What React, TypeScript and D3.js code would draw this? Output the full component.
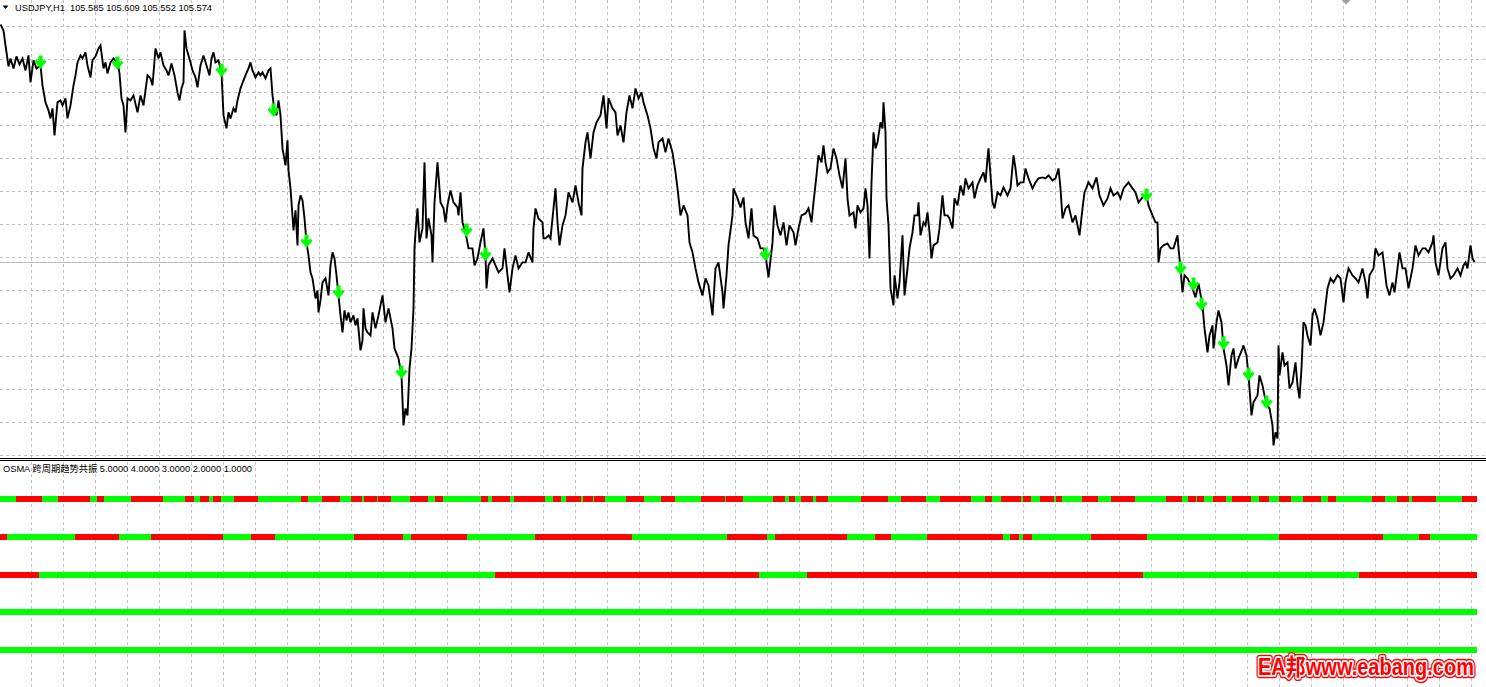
import React from 'react';
import * as d3 from 'd3';

const W = 1486;
const H = 687;

const chartTitle = 'USDJPY,H1  105.585 105.609 105.552 105.574';
const indicatorTitle = 'OSMA 跨周期趋势共振 5.0000 4.0000 3.0000 2.0000 1.0000';
const watermarkText = 'EA邦www.eabang.com';

const totalBars = 1477;
const lastPrice = 105.574;

// [bar index, close price] (local highs/lows)
const closeSeries: [number, number][] = [
  [0,107.95],[3,107.89],[5,107.74],[8,107.53],[10,107.61],[13,107.51],[16,107.63],[19,107.55],[22,107.61],[25,107.49],
  [28,107.64],[30,107.37],[33,107.59],[36,107.51],[40,107.54],[42,107.34],[45,107.17],[48,107.09],[50,107.01],[52,107.11],
  [54,106.84],[57,107.17],[60,107.19],[62,107.14],[65,107.21],[67,107.01],[70,107.14],[73,107.34],[75,107.44],[77,107.57],
  [80,107.64],[82,107.61],[85,107.67],[87,107.54],[90,107.42],[92,107.59],[95,107.63],[98,107.71],[100,107.74],[103,107.51],
  [105,107.57],[107,107.46],[110,107.57],[113,107.61],[117,107.57],[119,107.46],[121,107.21],[123,107.14],[125,106.87],[127,107.21],
  [130,107.19],[133,107.24],[137,107.07],[140,107.24],[143,107.14],[147,107.44],[150,107.41],[152,107.34],[155,107.71],[158,107.61],
  [160,107.67],[163,107.54],[166,107.49],[168,107.44],[171,107.56],[174,107.44],[177,107.27],[179,107.19],[181,107.31],[183,107.37],
  [184,107.89],[186,107.71],[188,107.64],[190,107.57],[192,107.49],[195,107.42],[197,107.32],[200,107.54],[203,107.64],[206,107.54],
  [209,107.44],[211,107.61],[213,107.67],[215,107.57],[218,107.59],[221,107.47],[223,107.04],[226,106.91],[228,107.07],[230,107.01],
  [233,107.11],[235,107.07],[237,107.19],[240,107.31],[243,107.39],[245,107.44],[248,107.51],[250,107.57],[252,107.49],[255,107.42],
  [258,107.47],[260,107.44],[262,107.47],[265,107.41],[268,107.49],[270,107.51],[272,107.24],[274,107.09],[276,107.04],[278,107.19],
  [280,107.04],[282,106.71],[285,106.54],[287,106.79],[288,106.49],[290,106.31],[293,105.89],[295,106.09],[297,105.74],[298,106.14],
  [300,106.24],[302,106.19],[304,106.01],[306,105.77],[308,105.64],[310,105.47],[312,105.41],[315,105.21],[317,105.29],[318,105.07],
  [320,105.19],[322,105.37],[325,105.41],[328,105.24],[330,105.54],[332,105.67],[334,105.61],[336,105.44],[338,105.24],[340,105.04],
  [342,104.87],[344,105.09],[346,104.99],[348,105.07],[350,104.97],[353,105.04],[355,104.94],[357,105.01],[360,104.69],[362,104.79],
  [363,105.11],[365,104.91],[367,104.87],
  [370,104.84],[372,105.07],[375,104.91],[378,105.04],[382,105.24],[385,104.97],[388,105.11],[392,104.91],[394,104.71],[398,104.61],
  [401,104.44],[403,103.94],[405,104.11],[407,104.04],[409,104.51],[411,104.71],[413,105.11],[414,105.71],[415,105.87],[417,106.11],
  [419,105.77],[422,105.91],[424,106.57],[426,105.81],[428,106.01],[431,105.84],[432,105.57],[434,106.17],[437,106.57],[438,106.44],
  [440,106.17],[443,106.11],[445,105.97],[447,106.14],[450,106.29],[453,106.17],[457,106.12],[458,106.04],[460,106.27],[462,105.97],
  [465,105.87],[468,105.71],[472,105.71],[474,105.54],[477,105.61],[480,105.77],[483,105.91],[485,105.64],[486,105.31],[488,105.54],
  [492,105.61],[495,105.54],[498,105.47],[502,105.51],[504,105.71],[507,105.44],[509,105.27],[512,105.51],[515,105.64],[518,105.51],
  [522,105.57],[525,105.57],[528,105.67],[532,105.57],[533,105.91],[535,106.11],[538,106.01],[542,105.97],[543,105.81],[545,105.81],
  [548,105.84],[550,105.81],[553,106.11],[555,106.31],[557,105.97],[559,105.74],[562,105.94],[565,106.04],[568,106.27],[572,106.17],
  [575,106.34],[578,106.17],[581,106.04],[582,106.51],[585,106.77],[587,106.87],[590,106.61],[593,106.87],[596,106.97],[600,107.04],
  [603,107.24],[606,106.91],[608,107.21],[612,107.11],[615,107.07],[617,106.84],[620,106.94],[623,106.77],[626,107.07],[629,107.24],
  [632,107.11],[635,107.31],[638,107.21],[641,107.27],[643,107.17],[647,107.04],[650,106.91],[653,106.71],[656,106.61],[658,106.77],
  [662,106.81],[665,106.67],[668,106.81],[672,106.67],[675,106.47],[677,106.31],[680,106.04],[683,106.14],[687,106.04],[689,105.77],
  [692,105.67],[695,105.51],[698,105.37],[702,105.24],[705,105.41],[708,105.34],[712,105.04],[715,105.51],[718,105.57],[722,105.27],
  [723,105.11],[726,105.44],[728,105.74],[732,106.04],[733,106.31],[737,106.21],[740,106.12],
  [743,106.22],[745,105.97],[748,105.81],[751,106.11],[753,105.84],[757,105.81],[760,105.71],[763,105.71],[765,105.64],[768,105.42],
  [772,105.77],[774,106.14],[777,105.94],[780,105.84],[783,105.97],[786,105.74],[789,105.94],[793,105.87],[795,105.74],[798,105.91],
  [801,106.04],[805,106.06],[808,106.11],[811,105.97],[813,106.17],[816,106.44],[818,106.64],[821,106.57],[823,106.74],[825,106.57],
  [827,106.47],[830,106.51],[833,106.71],[836,106.61],[839,106.44],[842,106.31],[845,106.61],[847,106.21],[849,106.04],[853,106.07],
  [855,105.91],[857,106.14],[860,106.07],[863,106.11],[865,106.31],[867,106.14],[869,105.61],[871,106.37],[873,106.87],[875,106.71],
  [877,106.77],[880,106.97],[882,106.91],[883,107.17],[885,106.87],[886,106.21],[888,105.94],[890,105.31],[893,105.14],[894,105.44],
  [897,105.21],[899,105.37],[902,105.84],[904,105.24],[907,105.51],[909,105.71],[912,105.87],[914,106.04],[917,106.04],[918,106.17],
  [920,105.84],[923,105.97],[925,105.94],[927,106.07],[929,105.87],[931,105.61],[933,105.74],[937,105.77],[939,105.91],[942,106.24],
  [944,106.04],[947,106.04],[949,106.01],[952,105.91],[954,106.21],[957,106.14],[960,106.34],[963,106.24],[965,106.41],[968,106.31],
  [972,106.37],[974,106.21],[977,106.34],[980,106.41],[983,106.47],[985,106.37],[987,106.61],[988,106.71],[990,106.44],[992,106.17],
  [994,106.11],[997,106.27],[1000,106.24],[1003,106.32],[1007,106.24],[1010,106.31],[1013,106.64],[1015,106.51],[1017,106.34],[1020,106.37],
  [1023,106.37],[1025,106.51],[1028,106.41],[1032,106.31],[1035,106.37],[1038,106.41],[1042,106.42],[1045,106.41],[1048,106.44],[1052,106.39],
  [1055,106.41],[1058,106.51],[1060,106.31],[1062,106.01],[1065,106.11],[1068,106.14],[1072,105.97],[1075,106.04],[1079,105.84],[1082,106.11],
  [1084,106.27],[1088,106.37],[1092,106.31],[1096,106.42],[1099,106.24],[1103,106.14],[1107,106.21],
  [1110,106.31],[1113,106.24],[1117,106.27],[1120,106.21],[1123,106.31],[1128,106.37],[1132,106.31],[1135,106.27],[1138,106.17],[1142,106.22],
  [1146,106.24],[1148,106.14],[1152,106.04],[1155,105.97],[1157,105.97],[1158,105.57],[1160,105.71],[1163,105.74],[1167,105.76],[1170,105.71],
  [1173,105.71],[1177,105.84],[1178,105.71],[1180,105.51],[1182,105.27],[1184,105.44],[1187,105.41],[1192,105.31],[1195,105.22],[1198,105.36],
  [1202,105.14],[1204,104.91],[1207,104.67],[1209,104.84],[1212,104.94],[1213,104.71],[1216,104.97],[1218,105.09],[1221,104.97],[1223,104.71],
  [1226,104.54],[1228,104.34],[1231,104.64],[1233,104.71],[1235,104.51],[1238,104.61],[1242,104.71],[1243,104.74],[1246,104.64],[1248,104.44],
  [1251,104.04],[1253,104.17],[1257,104.24],[1259,104.44],[1262,104.34],[1264,104.24],[1267,104.14],[1269,104.11],[1272,103.94],[1273,103.74],
  [1275,103.87],[1277,103.81],[1278,104.74],[1279,104.44],[1282,104.67],[1284,104.54],[1287,104.57],[1289,104.31],[1292,104.37],[1295,104.57],
  [1297,104.34],[1299,104.21],[1301,104.51],[1303,104.97],[1305,104.94],[1307,104.84],[1310,104.74],[1312,105.04],[1314,105.11],[1317,105.01],
  [1320,104.84],[1323,104.97],[1325,105.14],[1327,105.31],[1330,105.41],[1333,105.37],[1337,105.44],[1340,105.41],[1343,105.17],[1345,105.37],
  [1348,105.51],[1352,105.44],[1355,105.41],[1358,105.37],[1362,105.51],[1365,105.37],[1367,105.21],[1369,105.44],[1373,105.51],[1375,105.71],
  [1378,105.64],[1382,105.67],[1384,105.51],[1386,105.34],[1389,105.24],[1392,105.37],[1394,105.27],[1397,105.51],[1399,105.67],[1402,105.51],
  [1405,105.51],[1408,105.31],[1412,105.51],[1415,105.74],[1418,105.64],[1422,105.71],[1425,105.71],[1428,105.67],[1432,105.77],[1433,105.84],
  [1435,105.57],[1438,105.44],[1442,105.71],[1445,105.77],[1447,105.51],[1450,105.41],[1453,105.44],[1457,105.51],[1460,105.44],[1463,105.54],
  [1465,105.57],[1467,105.51],[1470,105.74],[1472,105.61],[1474,105.574],
];

// Signal arrows: bar index and price
const arrowBars = [40, 117, 221, 273, 306, 338, 401, 466, 485, 765, 1146, 1180, 1193, 1201, 1223, 1248, 1266];
const arrowPrices = [107.57, 107.56, 107.49, 107.09, 105.78, 105.27, 104.47, 105.89, 105.65, 105.65, 106.24, 105.51, 105.35, 105.15, 104.76, 104.45, 104.17];

// Indicator rows: level value, starting state (true = up/green), bars where the colour flips
const indicatorLevels = [5, 4, 3, 2, 1];
const level5StartUp = true;
const level5Flips = [16,42,58,90,97,104,131,163,185,194,200,209,213,221,234,258,301,308,322,340,351,362,364,377,378,391,410,428,435,443,481,488,492,510,514,545,553,561,566,581,583,593,594,605,626,644,661,675,701,725,726,743,773,785,789,795,801,813,816,828,861,888,901,926,940,971,985,992,1001,1021,1023,1031,1040,1054,1056,1062,1082,1098,1111,1135,1166,1182,1188,1196,1197,1204,1213,1226,1232,1251,1259,1269,1279,1291,1303,1321,1328,1336,1372,1385,1397,1409,1412,1436,1462];
const level4StartUp = false;
const level4Flips = [7,75,119,151,223,251,275,354,403,411,467,535,632,727,767,775,847,875,891,927,1003,1010,1019,1023,1032,1091,1147,1279,1383,1419,1430];
const level3StartUp = false;
const level3Flips = [39,495,759,807,1143,1359];
const level2StartUp = true;
const level2Flips: number[] = [];
const level1StartUp = true;
const level1Flips: number[] = [];

const UP = '#00FF00';
const DOWN = '#FF0000';
const GRID = '#C0C0C0';

function runs(startUp: boolean, flips: number[], total: number) {
  const out: { from: number; to: number; up: boolean }[] = [];
  let from = 0;
  let up = startUp;
  for (const f of flips) {
    out.push({ from, to: f, up });
    from = f;
    up = !up;
  }
  out.push({ from, to: total, up });
  return out;
}

export default function App() {
  const x = d3.scaleLinear().domain([0, totalBars]).range([0, 1477]);
  const yP = d3.scaleLinear().domain([108.194, 103.694]).range([0, 450]);
  const yI = d3.scaleLinear().domain([0, 6]).range([687.75, 461.25]);

  const line = d3.line<[number, number]>().x((d) => x(d[0]) + 0.5).y((d) => yP(d[1]));

  const rows = [
    { level: indicatorLevels[0], segs: runs(level5StartUp, level5Flips, totalBars) },
    { level: indicatorLevels[1], segs: runs(level4StartUp, level4Flips, totalBars) },
    { level: indicatorLevels[2], segs: runs(level3StartUp, level3Flips, totalBars) },
    { level: indicatorLevels[3], segs: runs(level2StartUp, level2Flips, totalBars) },
    { level: indicatorLevels[4], segs: runs(level1StartUp, level1Flips, totalBars) },
  ];

  const vGrid = d3.range(31.5, W, 32);
  const hGrid = d3.range(26.5, 457, 33);

  const arrowPath =
    'M-2,-7 L2,-7 L2,-0.8 L4,-3 L6,-0.8 L0,6.5 L-6,-0.8 L-4,-3 L-2,-0.8 Z';

  const fontFamily = '"Liberation Sans", Arial, "Noto Sans CJK SC", sans-serif';

  return (
    <svg
      width={W}
      height={H}
      viewBox={`0 0 ${W} ${H}`}
      style={{ position: 'absolute', left: 0, top: 0, background: '#ffffff', display: 'block' }}
    >
      <rect x={0} y={0} width={W} height={H} fill="#ffffff" />
      {/* grid */}
      <g stroke={GRID} strokeWidth={1} strokeDasharray="3,3" shapeRendering="crispEdges">
        {hGrid.map((gy) => (
          <line key={'h' + gy} x1={0} x2={W} y1={gy} y2={gy} />
        ))}
        {vGrid.map((gx) => (
          <line key={'v' + gx} x1={gx} x2={gx} y1={0} y2={H} />
        ))}
      </g>
      {/* current price line */}
      <line
        x1={0}
        x2={W}
        y1={Math.round(yP(lastPrice)) + 0.5}
        y2={Math.round(yP(lastPrice)) + 0.5}
        stroke={GRID}
        strokeWidth={1}
        shapeRendering="crispEdges"
      />
      {/* price line */}
      <path d={line(closeSeries) || ''} fill="none" stroke="#000000" strokeWidth={1.9} strokeLinejoin="miter" strokeMiterlimit={3} />
      {/* arrows */}
      <g fill={UP}>
        {arrowBars.map((b, i) => (
          <path key={'a' + i} d={arrowPath} transform={`translate(${x(b) + 0.5},${yP(arrowPrices[i])})`} />
        ))}
      </g>
      {/* top title */}
      <path d="M2.5,5.5 L8.5,5.5 L5.5,9 Z" fill="#000" />
      <text
        x={15}
        y={11}
        fontFamily={fontFamily}
        fontSize={9.5}
        fill="#000"
        textLength={197}
        lengthAdjust="spacingAndGlyphs"
        style={{ whiteSpace: 'pre' }}
      >
        {chartTitle}
      </text>
      {/* shift marker */}
      <path d="M1341.5,0 L1350.5,0 L1346,4.5 Z" fill="#A0A0A0" />
      {/* separator */}
      <line x1={0} x2={W} y1={458.5} y2={458.5} stroke="#000" strokeWidth={1} shapeRendering="crispEdges" />
      <line x1={0} x2={W} y1={460.5} y2={460.5} stroke="#000" strokeWidth={1} shapeRendering="crispEdges" />
      {/* indicator label */}
      <text
        x={3}
        y={472}
        fontFamily={fontFamily}
        fontSize={9.5}
        fill="#000"
        textLength={249}
        lengthAdjust="spacingAndGlyphs"
      >
        {indicatorTitle}
      </text>
      {/* indicator rows */}
      {rows.map((r) => (
        <g key={'r' + r.level} shapeRendering="crispEdges">
          {r.segs.map((s, i) => (
            <rect
              key={i}
              x={x(s.from)}
              width={x(s.to) - x(s.from)}
              y={yI(r.level) - 3}
              height={6}
              fill={s.up ? UP : DOWN}
            />
          ))}
        </g>
      ))}
      {/* watermark */}
      <g
        fontFamily={'"Liberation Sans", Arial, "Noto Sans CJK SC", sans-serif'}
        fontWeight="bold"
        fontSize={20}
        transform="translate(1258,675) scale(1,1.15)"
      >
        <text x={0} y={0} fill="none" stroke="#FF0000" strokeWidth={5.5} strokeLinejoin="round">
          {watermarkText}
        </text>
        <text x={0} y={0} fill="none" stroke="#FFFFFF" strokeWidth={3} strokeLinejoin="round">
          {watermarkText}
        </text>
        <text x={0} y={0} fill="#FF0000">
          {watermarkText}
        </text>
      </g>
    </svg>
  );
}
